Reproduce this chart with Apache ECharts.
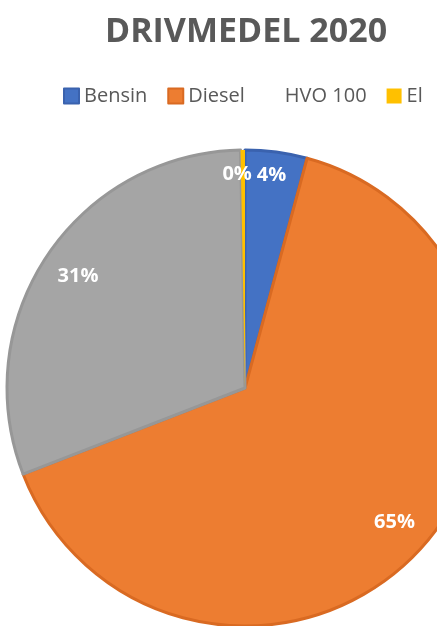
<!DOCTYPE html>
<html>
<head>
<meta charset="utf-8">
<script src="https://cdn.jsdelivr.net/npm/echarts@6/dist/echarts.min.js"></script>
<style>
html,body{margin:0;padding:0;background:#fff;}
#chart{width:437px;height:626px;}
</style>
</head>
<body>
<div id="chart"></div>
<script>
const titleText = 'DRIVMEDEL 2020';
const categories = ['Bensin', 'Diesel', 'HVO 100', 'El'];
const values = [4.2, 64.9, 30.6, 0.3];

const fillColors = ['#4472C4', '#ED7D31', '#A5A5A5', '#FFC000'];
const edgeColors = ['#3A62AE', '#D96A22', '#979797', '#E0A800'];
const labelOffsets = { 'Bensin': [0, -13], 'El': [-6, -13] };

const chart = echarts.init(document.getElementById('chart'), null, { renderer: 'canvas' });

const baseData = categories.map((c, i) => ({
  name: c,
  value: values[i],
  itemStyle: { color: fillColors[i], borderColor: edgeColors[i], borderWidth: i === 3 ? 0 : 3 }
}));

const labelData = categories.map((c, i) => ({
  name: c,
  value: values[i],
  label: labelOffsets[c] ? { offset: labelOffsets[c] } : {}
}));

const option = {
  backgroundColor: '#ffffff',
  animation: false,
  title: {
    text: titleText,
    left: 100,
    top: 10,
    textStyle: { fontFamily: 'Open Sans', fontWeight: 'bold', fontSize: 34, color: '#595959' }
  },
  legend: {
    data: categories.map((c, i) => c === 'HVO 100'
      ? { name: c, itemStyle: { color: 'rgba(0,0,0,0)', borderWidth: 0 } }
      : { name: c }),
    left: 58,
    top: 81,
    width: 800,
    orient: 'horizontal',
    icon: 'rect',
    itemWidth: 15,
    itemHeight: 15,
    itemGap: 20,
    textStyle: { fontFamily: 'Open Sans', fontSize: 20, color: '#595959' }
  },
  color: fillColors,
  series: [
    {
      type: 'pie',
      center: [245, 388],
      radius: [0, 238],
      startAngle: 90,
      clockwise: true,
      silent: true,
      label: { show: false },
      labelLine: { show: false },
      data: baseData
    },
    {
      type: 'pie',
      center: [245, 388],
      radius: [158, 238],
      startAngle: 90,
      clockwise: true,
      silent: true,
      percentPrecision: 0,
      itemStyle: { color: 'rgba(0,0,0,0)', borderWidth: 0 },
      label: {
        show: true,
        position: 'inside',
        formatter: '{d}%',
        fontFamily: 'Open Sans',
        fontWeight: 'bold',
        fontSize: 20,
        color: '#ffffff'
      },
      labelLine: { show: false },
      data: labelData
    }
  ]
};
chart.setOption(option);
</script>
</body>
</html>
